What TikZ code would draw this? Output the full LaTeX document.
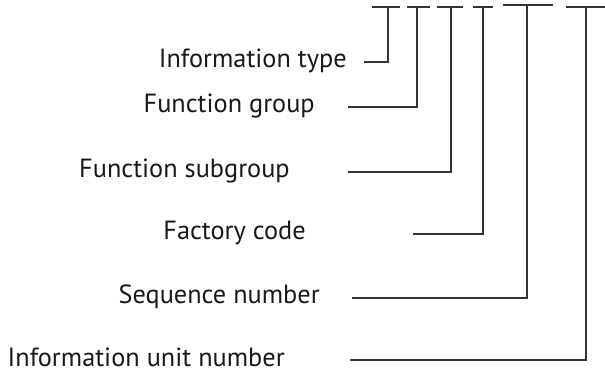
\documentclass[tikz,border=0pt]{standalone}
\usepackage{fontspec}
\setsansfont{PT Sans}
\usetikzlibrary{positioning}

\begin{document}
\begin{tikzpicture}[
    x=0.025cm, y=-0.025cm,
    font=\sffamily\fontsize{18.7}{22}\selectfont,
    fieldlbl/.style={anchor=base east, inner sep=0pt, text=black!90},
    barline/.style={draw=black!80, line width=1.3pt},
    leadline/.style={draw=black!80, line width=1.2pt}
]
    \useasboundingbox (0,0) rectangle (605,373);

    % Barres du code
    \coordinate (b1w) at (372,7);  \coordinate (b1e) at (400,7);  \coordinate (b1) at (388,7);
    \coordinate (b2w) at (407,7);  \coordinate (b2e) at (430,7);  \coordinate (b2) at (417,7);
    \coordinate (b3w) at (437,7);  \coordinate (b3e) at (463,7);  \coordinate (b3) at (451,7);
    \coordinate (b4w) at (473,7);  \coordinate (b4e) at (493,7);  \coordinate (b4) at (483,7);
    \coordinate (b5w) at (503,5);  \coordinate (b5e) at (553,5);  \coordinate (b5) at (527,5);
    \coordinate (b6w) at (566,7);  \coordinate (b6e) at (605,7);  \coordinate (b6) at (586,7);

    \draw[barline] (b1w) -- (b1e);
    \draw[barline] (b2w) -- (b2e);
    \draw[barline] (b3w) -- (b3e);
    \draw[barline] (b4w) -- (b4e);
    \draw[barline] (b5w) -- (b5e);
    \draw[barline] (b6w) -- (b6e);

    % Libellés
    \node[fieldlbl] (infotype) at (347,68) {Information type};
    \node[fieldlbl] (fgroup)   at (315,113) {Function group};
    \node[fieldlbl] (fsub)     at (290,178) {Function subgroup};
    \node[fieldlbl] (factory)  at (306,240) {Factory code};
    \node[fieldlbl] (seqnum)   at (320,304) {Sequence number};
    \node[fieldlbl] (unitnum)  at (285,366) {Information unit number};

    % Départs des traits
    \coordinate (s1) at (364,62);
    \coordinate (s2) at (348,107);
    \coordinate (s3) at (348,172);
    \coordinate (s4) at (413,234);
    \coordinate (s5) at (352,298);
    \coordinate (s6) at (350,360);

    \draw[leadline] (s1) -| (b1);
    \draw[leadline] (s2) -| (b2);
    \draw[leadline] (s3) -| (b3);
    \draw[leadline] (s4) -| (b4);
    \draw[leadline] (s5) -| (b5);
    \draw[leadline] (s6) -| (b6);

\end{tikzpicture}
\end{document}
